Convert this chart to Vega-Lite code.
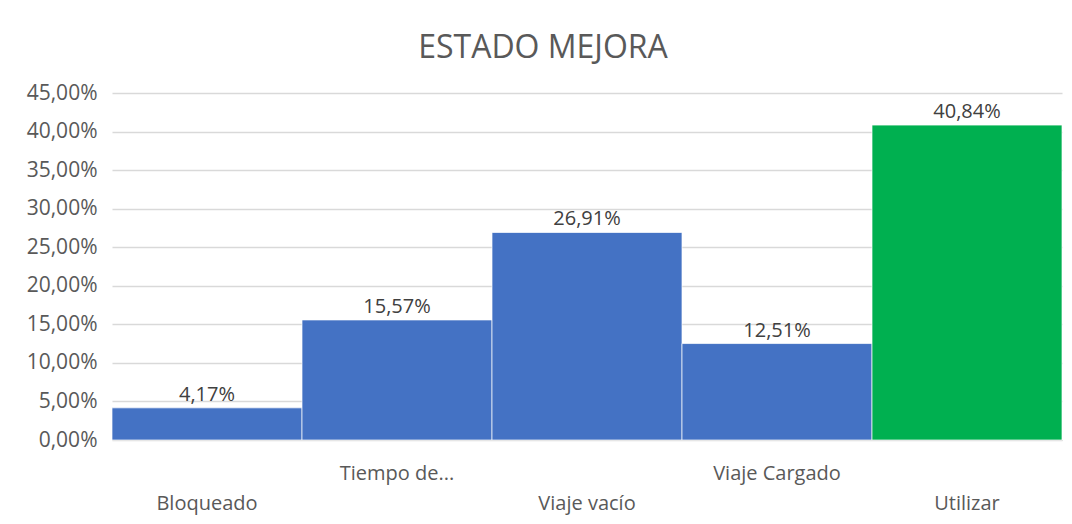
{
  "$schema": "https://vega.github.io/schema/vega-lite/v6.json",
  "width": 950,
  "height": 347,
  "autosize": {"type": "none"},
  "padding": {"left": 112, "top": 93, "right": 10, "bottom": 84},
  "background": "white",
  "config": {
    "locale": {"number": {"decimal": ",", "thousands": ".", "grouping": [3], "currency": ["", " €"]}},
    "view": {"stroke": null},
    "font": "Open Sans"
  },
  "title": {
    "text": "ESTADO MEJORA",
    "fontSize": 32,
    "fontWeight": "normal",
    "color": "#595959",
    "offset": 17,
    "dx": -44,
    "font": "Open Sans"
  },
  "data": {
    "values": [
      {"estado": "Bloqueado", "valor": 0.0417, "tipo": "a"},
      {"estado": "Tiempo de...", "valor": 0.1557, "tipo": "a"},
      {"estado": "Viaje vacío", "valor": 0.2691, "tipo": "a"},
      {"estado": "Viaje Cargado", "valor": 0.1251, "tipo": "a"},
      {"estado": "Utilizar", "valor": 0.4084, "tipo": "b"}
    ]
  },
  "encoding": {
    "x": {
      "field": "estado",
      "type": "nominal",
      "sort": null,
      "title": null,
      "scale": {"paddingInner": 0, "paddingOuter": 0},
      "axis": {
        "labelAngle": 0,
        "labelFontSize": 20,
        "labelColor": "#595959",
        "labelPadding": 23,
        "labelLineHeight": 30,
        "labelBaseline": "top",
        "ticks": false,
        "domainColor": "#d9d9d9",
        "labelExpr": "(datum.value == 'Tiempo de...' || datum.value == 'Viaje Cargado') ? datum.label : ['', datum.label]"
      }
    },
    "y": {
      "field": "valor",
      "type": "quantitative",
      "title": null,
      "scale": {"domain": [0, 0.45]},
      "axis": {
        "format": ".2%",
        "values": [0, 0.05, 0.1, 0.15, 0.2, 0.25, 0.3, 0.35, 0.4, 0.45],
        "labelFontSize": 21,
        "labelColor": "#595959",
        "labelPadding": 15,
        "ticks": false,
        "domain": false,
        "gridColor": "#d9d9d9",
        "gridWidth": 1.3
      }
    }
  },
  "layer": [
    {
      "mark": {"type": "bar", "stroke": "white", "strokeWidth": 0.7},
      "encoding": {
        "color": {
          "field": "tipo",
          "type": "nominal",
          "scale": {"domain": ["a", "b"], "range": ["#4472C4", "#00B050"]},
          "legend": null
        }
      }
    },
    {
      "mark": {"type": "text", "baseline": "bottom", "dy": -3, "fontSize": 20, "color": "#404040"},
      "encoding": {
        "text": {"field": "valor", "type": "quantitative", "format": ".2%"}
      }
    }
  ]
}
